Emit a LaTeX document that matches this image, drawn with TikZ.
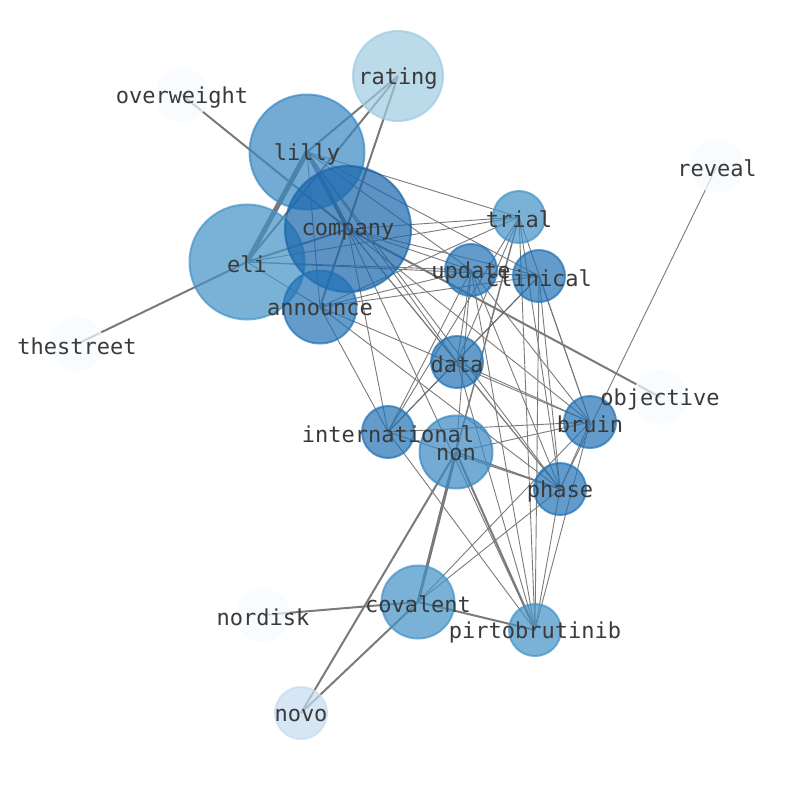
\documentclass[tikz,border=0pt]{standalone}
\usepackage{fontspec}
\newfontfamily\lblfont{DejaVu Sans Mono}
\definecolor{bpale}{HTML}{F7FBFF}
\definecolor{bnovo}{HTML}{C6DBEF}
\definecolor{brate}{HTML}{9ECAE1}
\definecolor{blight}{HTML}{4292C6}
\definecolor{bmid}{HTML}{3888C2}
\definecolor{bdark}{HTML}{2171B5}
\definecolor{bdeep}{HTML}{1865AB}
\definecolor{edgegray}{HTML}{7A7A7A}
\definecolor{txtgray}{HTML}{3A3A3A}
\pgfdeclarelayer{background}
\pgfdeclarelayer{foreground}
\pgfsetlayers{background,main,foreground}
\tikzset{
  vtx/.style={circle, inner sep=0pt, line width=2pt, fill=#1, draw=#1, fill opacity=0.7, draw opacity=0.7},
  lbl/.style={inner sep=0pt, yshift=-2.5pt, font=\lblfont\fontsize{22}{24}\selectfont, text=txtgray},
  ea/.style={draw=edgegray, line width=0.9pt},
  eb/.style={draw=edgegray!85!black, line width=1.2pt},
  ebb/.style={draw=edgegray, line width=1.5pt},
  ec/.style={draw=edgegray, line width=2pt},
  ed/.style={draw=edgegray, line width=3pt},
  ee/.style={draw=edgegray, line width=4pt},
  ef/.style={draw=edgegray, line width=5pt}
}
\begin{document}
\begin{tikzpicture}[x=1pt,y=-1pt]
\useasboundingbox (0,0) rectangle (794,790);
% nodes (circles)
\node[vtx=brate, minimum size=90pt] (rating) at (398,76) {};
\node[vtx=bpale, minimum size=52pt] (overweight) at (182,95) {};
\node[vtx=bmid, minimum size=115pt] (lilly) at (307,152) {};
\node[vtx=blight, minimum size=115pt] (eli) at (247,262) {};
\node[vtx=bdeep, minimum size=126pt] (company) at (348,229) {};
\node[vtx=bdark, minimum size=73pt] (announce) at (320,307) {};
\node[vtx=blight, minimum size=52pt] (trial) at (519,217) {};
\node[vtx=bdark, minimum size=52pt] (update) at (471,270) {};
\node[vtx=bdark, minimum size=52pt] (clinical) at (539,276) {};
\node[vtx=bpale, minimum size=52pt] (reveal) at (717,166) {};
\node[vtx=bpale, minimum size=52pt] (thestreet) at (77,344) {};
\node[vtx=bdark, minimum size=52pt] (data) at (457,362) {};
\node[vtx=bpale, minimum size=52pt] (objective) at (660,397) {};
\node[vtx=bdark, minimum size=52pt] (bruin) at (590,422) {};
\node[vtx=bdark, minimum size=52pt] (international) at (388,432) {};
\node[vtx=bmid, minimum size=73pt] (non) at (456,452) {};
\node[vtx=bdark, minimum size=52pt] (phase) at (560,489) {};
\node[vtx=bpale, minimum size=52pt] (nordisk) at (263,615) {};
\node[vtx=blight, minimum size=73pt] (covalent) at (418,602) {};
\node[vtx=blight, minimum size=52pt] (pirtobrutinib) at (535,630) {};
\node[vtx=bnovo, minimum size=52pt] (novo) at (301,713) {};
% edges
\begin{pgfonlayer}{background}
\draw[ef] (lilly.center) -- (eli.center);
\draw[ee] (lilly.center) -- (company.center);
\draw[ec] (eli.center) -- (company.center);
\draw[ec] (rating.center) -- (lilly.center);
\draw[ec] (rating.center) -- (eli.center);
\draw[ec] (rating.center) -- (announce.center);
\draw[ec] (overweight.center) -- (company.center);
\draw[ec] (company.center) -- (objective.center);
\draw[ec] (thestreet.center) -- (eli.center);
\draw[ea] (reveal.center) -- (phase.center);
\draw[ec] (nordisk.center) -- (covalent.center);
\draw[ec] (novo.center) -- (covalent.center);
\draw[ec] (novo.center) -- (non.center);
\draw[ed] (non.center) -- (covalent.center);
\draw[ec] (non.center) -- (pirtobrutinib.center);
\draw[ec] (covalent.center) -- (pirtobrutinib.center);
\draw[ebb] (non.center) -- (phase.center);
\draw[ebb] (non.center) -- (trial.center);
\draw[ea] (lilly.center) -- (announce.center);
% company
\draw[ea] (company.center) -- (update.center);
\draw[ea] (company.center) -- (clinical.center);
\draw[ea] (company.center) -- (trial.center);
\draw[ea] (company.center) -- (data.center);
\draw[ea] (company.center) -- (bruin.center);
\draw[ea] (company.center) -- (phase.center);
\draw[ea] (company.center) -- (pirtobrutinib.center);
\draw[ea] (company.center) -- (international.center);
% lilly
\draw[ea] (lilly.center) -- (update.center);
\draw[ea] (lilly.center) -- (clinical.center);
\draw[ea] (lilly.center) -- (trial.center);
\draw[ea] (lilly.center) -- (data.center);
\draw[ea] (lilly.center) -- (phase.center);
% eli
\draw[ea] (eli.center) -- (update.center);
\draw[ea] (eli.center) -- (clinical.center);
\draw[ea] (eli.center) -- (trial.center);
\draw[ea] (eli.center) -- (announce.center);
% announce
\draw[ea] (announce.center) -- (update.center);
\draw[ea] (announce.center) -- (clinical.center);
\draw[ea] (announce.center) -- (trial.center);
\draw[ea] (announce.center) -- (bruin.center);
\draw[ea] (announce.center) -- (phase.center);
\draw[ea] (announce.center) -- (international.center);
% update
\draw[ea] (update.center) -- (data.center);
\draw[ea] (update.center) -- (international.center);
\draw[ea] (update.center) -- (non.center);
\draw[ea] (update.center) -- (bruin.center);
\draw[ea] (update.center) -- (phase.center);
\draw[ea] (update.center) -- (pirtobrutinib.center);
% trial
\draw[ea] (trial.center) -- (data.center);
\draw[ea] (trial.center) -- (international.center);
\draw[ea] (trial.center) -- (bruin.center);
\draw[ea] (trial.center) -- (phase.center);
\draw[ea] (trial.center) -- (pirtobrutinib.center);
% clinical
\draw[eb] (clinical.center) -- (international.center);
\draw[ea] (clinical.center) -- (bruin.center);
\draw[ea] (clinical.center) -- (phase.center);
\draw[ea] (clinical.center) -- (pirtobrutinib.center);
% data
\draw[ea] (data.center) -- (bruin.center);
\draw[ea] (data.center) -- (phase.center);
\draw[ea] (data.center) -- (pirtobrutinib.center);
% international
\draw[ea] (international.center) -- (bruin.center);
\draw[ea] (international.center) -- (phase.center);
\draw[ea] (international.center) -- (pirtobrutinib.center);
% non / covalent / bruin / phase
\draw[ea] (non.center) -- (bruin.center);
\draw[ea] (covalent.center) -- (bruin.center);
\draw[ea] (covalent.center) -- (phase.center);
\draw[ea] (bruin.center) -- (phase.center);
\draw[ea] (bruin.center) -- (pirtobrutinib.center);
\draw[ea] (phase.center) -- (pirtobrutinib.center);
\end{pgfonlayer}
% labels
\begin{pgfonlayer}{foreground}
\node[lbl] (rating-t) at (rating) {rating};
\node[lbl] (overweight-t) at (overweight) {overweight};
\node[lbl] (lilly-t) at (lilly) {lilly};
\node[lbl] (eli-t) at (eli) {eli};
\node[lbl] (company-t) at (company) {company};
\node[lbl] (announce-t) at (announce) {announce};
\node[lbl] (trial-t) at (trial) {trial};
\node[lbl] (update-t) at (update) {update};
\node[lbl] (clinical-t) at (clinical) {clinical};
\node[lbl] (reveal-t) at (reveal) {reveal};
\node[lbl] (thestreet-t) at (thestreet) {thestreet};
\node[lbl] (data-t) at (data) {data};
\node[lbl] (objective-t) at (objective) {objective};
\node[lbl] (bruin-t) at (bruin) {bruin};
\node[lbl] (international-t) at (international) {international};
\node[lbl] (non-t) at (non) {non};
\node[lbl] (phase-t) at (phase) {phase};
\node[lbl] (nordisk-t) at (nordisk) {nordisk};
\node[lbl] (covalent-t) at (covalent) {covalent};
\node[lbl] (pirtobrutinib-t) at (pirtobrutinib) {pirtobrutinib};
\node[lbl] (novo-t) at (novo) {novo};
\end{pgfonlayer}
\end{tikzpicture}
\end{document}
